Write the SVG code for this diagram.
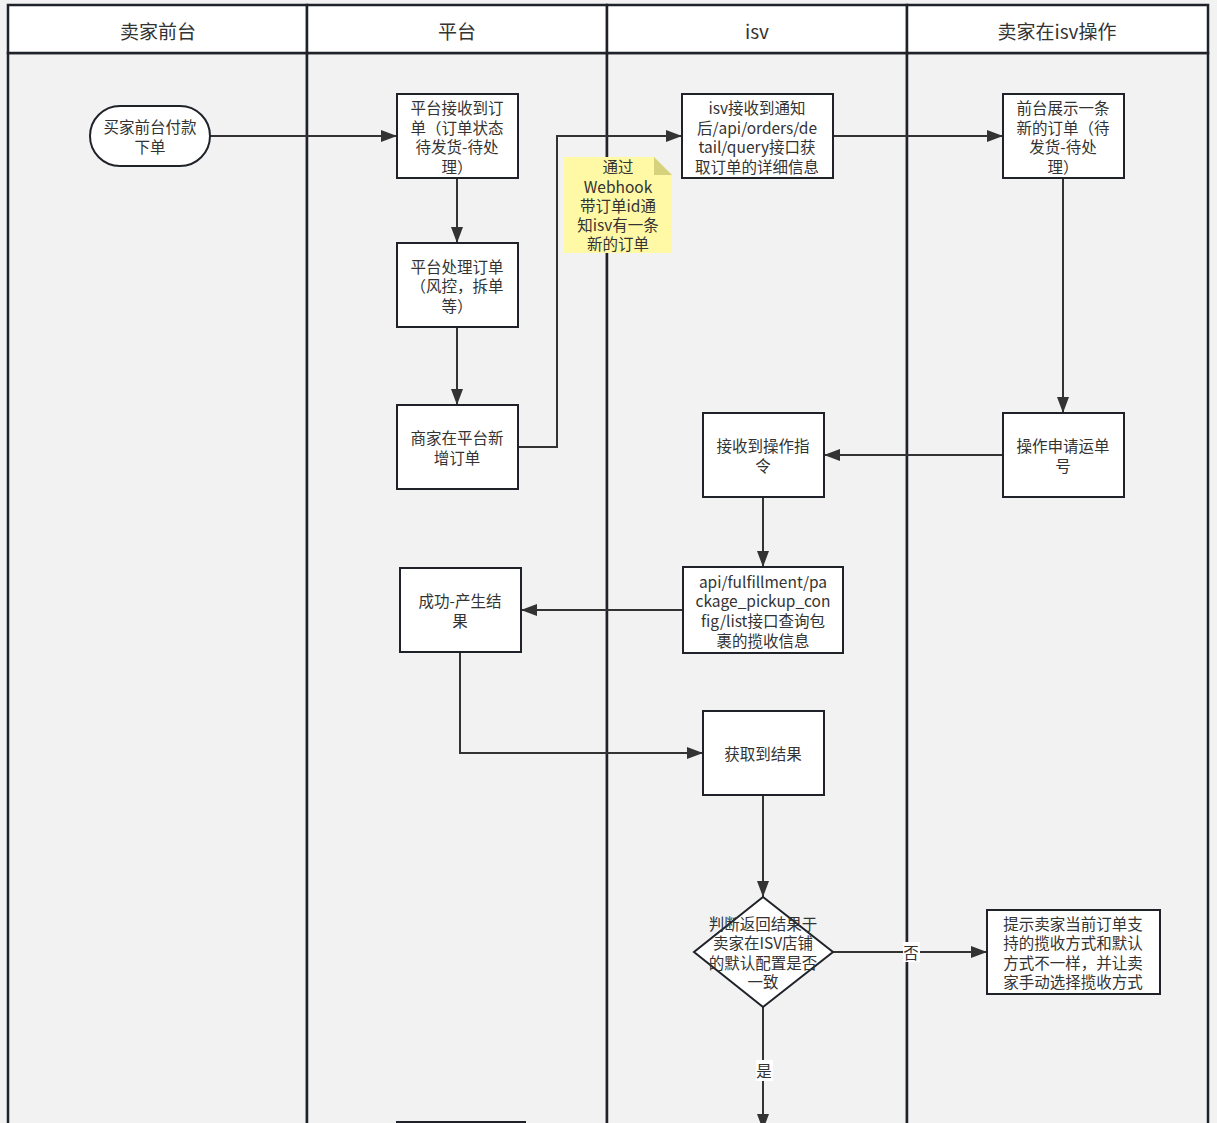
<svg xmlns="http://www.w3.org/2000/svg" width="1217" height="1123" viewBox="0 0 1217 1123">
<defs>
<style>
.lane{fill:#f2f2f2;stroke:#1f2329;stroke-width:2.5}
.hdr{fill:#ffffff;stroke:#1f2329;stroke-width:2.5}
.ht{font-family:"Noto Sans CJK SC","Noto Sans",sans-serif;font-size:19px;fill:#333;text-anchor:middle;dominant-baseline:central}
.box{fill:#ffffff;stroke:#1f2329;stroke-width:2}
.t{font-family:"Noto Sans CJK SC","Noto Sans",sans-serif;font-size:15.5px;fill:#333;text-anchor:middle;dominant-baseline:central}
.e{fill:none;stroke:#333;stroke-width:2}
.lbl{fill:#ffffff}
</style>
<marker id="ah" markerWidth="16" markerHeight="12" refX="16" refY="6" orient="auto" markerUnits="userSpaceOnUse">
<path d="M0,0 L16,6 L0,12 Z" fill="#333"/>
</marker>
</defs>
<rect x="0" y="0" width="1217" height="1123" fill="#f2f2f2"/>
<g id="lanes">
<rect class="lane" x="8" y="53" width="299" height="1090"/>
<rect class="lane" x="307" y="53" width="300" height="1090"/>
<rect class="lane" x="607" y="53" width="300" height="1090"/>
<rect class="lane" x="907" y="53" width="301" height="1090"/>
<rect class="hdr" x="8" y="5" width="299" height="48"/>
<rect class="hdr" x="307" y="5" width="300" height="48"/>
<rect class="hdr" x="607" y="5" width="300" height="48"/>
<rect class="hdr" x="907" y="5" width="301" height="48"/>
<text class="ht" x="158" y="30">卖家前台</text>
<text class="ht" x="457" y="30">平台</text>
<text class="ht" x="757" y="30">isv</text>
<text class="ht" x="1057" y="30">卖家在isv操作</text>
</g>
<g id="connectors">
<path class="e" d="M210,136 L397,136" marker-end="url(#ah)"/>
<path class="e" d="M457,178 L457,243" marker-end="url(#ah)"/>
<path class="e" d="M457,327 L457,405" marker-end="url(#ah)"/>
<path class="e" d="M518,447 L557,447 L557,136 L682,136" marker-end="url(#ah)"/>
<path class="e" d="M833,136 L1003,136" marker-end="url(#ah)"/>
<path class="e" d="M1063,178 L1063,413" marker-end="url(#ah)"/>
<path class="e" d="M1003,455 L824,455" marker-end="url(#ah)"/>
<path class="e" d="M763,497 L763,567" marker-end="url(#ah)"/>
<path class="e" d="M683,610 L521,610" marker-end="url(#ah)"/>
<path class="e" d="M460,652 L460,753 L703,753" marker-end="url(#ah)"/>
<path class="e" d="M763,795 L763,897" marker-end="url(#ah)"/>
<path class="e" d="M833,952 L987,952" marker-end="url(#ah)"/>
<path class="e" d="M763,1007 L763,1130" marker-end="url(#ah)"/>
<rect class="lbl" x="903" y="942" width="17" height="20"/>
<text class="t" x="911" y="952">否</text>
<rect class="lbl" x="756" y="1060" width="17" height="21"/>
<text class="t" x="764" y="1070">是</text>
</g>
<g id="n1"><rect class="box" x="90" y="106" width="120" height="60" rx="30"/>
<text class="t" x="150"><tspan x="150" y="126">买家前台付款</tspan><tspan x="150" y="146">下单</tspan></text></g>
<g id="n2"><rect class="box" x="397" y="94" width="121" height="84"/>
<text class="t"><tspan x="457" y="107">平台接收到订</tspan><tspan x="457" y="127">单（订单状态</tspan><tspan x="457" y="146">待发货-待处</tspan><tspan x="457" y="166">理）</tspan></text></g>
<g id="n3"><rect class="box" x="397" y="243" width="121" height="84"/>
<text class="t"><tspan x="457" y="266">平台处理订单</tspan><tspan x="457" y="285">（风控，拆单</tspan><tspan x="457" y="305">等）</tspan></text></g>
<g id="n4"><rect class="box" x="397" y="405" width="121" height="84"/>
<text class="t"><tspan x="457" y="437">商家在平台新</tspan><tspan x="457" y="457">增订单</tspan></text></g>
<g id="n5"><rect class="box" x="682" y="94" width="151" height="84"/>
<text class="t"><tspan x="757" y="107">isv接收到通知</tspan><tspan x="757" y="127">后/api/orders/de</tspan><tspan x="757" y="146">tail/query接口获</tspan><tspan x="757" y="166">取订单的详细信息</tspan></text></g>
<g id="note"><polygon points="564,157 654,157 672,175 672,253 564,253" fill="#fff9a6"/>
<polygon points="654,157 654,175 672,175" fill="#d6d17c"/>
<text class="t" font-size="16"><tspan x="618" y="166">通过</tspan><tspan x="618" y="186">Webhook</tspan><tspan x="618" y="205">带订单id通</tspan><tspan x="618" y="224">知isv有一条</tspan><tspan x="618" y="243">新的订单</tspan></text></g>
<g id="n6"><rect class="box" x="1003" y="94" width="121" height="84"/>
<text class="t"><tspan x="1063" y="107">前台展示一条</tspan><tspan x="1063" y="127">新的订单（待</tspan><tspan x="1063" y="146">发货-待处</tspan><tspan x="1063" y="166">理）</tspan></text></g>
<g id="n7"><rect class="box" x="1003" y="413" width="121" height="84"/>
<text class="t"><tspan x="1063" y="445">操作申请运单</tspan><tspan x="1063" y="465">号</tspan></text></g>
<g id="n8"><rect class="box" x="703" y="413" width="121" height="84"/>
<text class="t"><tspan x="763" y="445">接收到操作指</tspan><tspan x="763" y="465">令</tspan></text></g>
<g id="n9"><rect class="box" x="683" y="567" width="160" height="86"/>
<text class="t" font-size="16"><tspan x="763" y="581">api/fulfillment/pa</tspan><tspan x="763" y="600">ckage_pickup_con</tspan><tspan x="763" y="620">fig/list接口查询包</tspan><tspan x="763" y="640">裹的揽收信息</tspan></text></g>
<g id="n10"><rect class="box" x="400" y="568" width="121" height="84"/>
<text class="t"><tspan x="460" y="600">成功-产生结</tspan><tspan x="460" y="620">果</tspan></text></g>
<g id="n11"><rect class="box" x="703" y="711" width="121" height="84"/>
<text class="t" x="763" y="753">获取到结果</text></g>
<g id="n12"><polygon class="box" points="763,897 833,952 763,1007 694,952"/>
<text class="t"><tspan x="763" y="923">判断返回结果于</tspan><tspan x="763" y="942">卖家在ISV店铺</tspan><tspan x="763" y="962">的默认配置是否</tspan><tspan x="763" y="981">一致</tspan></text></g>
<g id="n13"><rect class="box" x="987" y="910" width="173" height="84"/>
<text class="t"><tspan x="1073" y="923">提示卖家当前订单支</tspan><tspan x="1073" y="942">持的揽收方式和默认</tspan><tspan x="1073" y="962">方式不一样，并让卖</tspan><tspan x="1073" y="981">家手动选择揽收方式</tspan></text></g>
<g id="n14"><rect class="box" x="397" y="1122" width="128" height="60"/></g>
</svg>
